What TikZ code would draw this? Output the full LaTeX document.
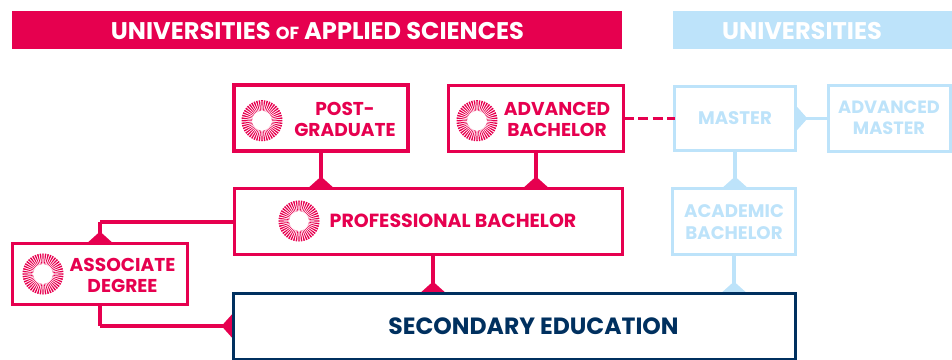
\documentclass[tikz,border=0pt]{standalone}
\usepackage{fontspec}
\setmainfont{Poppins}
\usetikzlibrary{arrows.meta}
\definecolor{hbored}{HTML}{E6004F}
\definecolor{hboblue}{HTML}{BDE3FA}
\definecolor{hbonavy}{HTML}{00305F}
\tikzset{
  x=1pt,y=-1pt,
  boxr/.style={draw=hbored,line width=3.5pt,inner sep=0pt,outer sep=0pt,rectangle},
  boxb/.style={draw=hboblue,line width=3.5pt,inner sep=0pt,outer sep=0pt,rectangle},
  boxn/.style={draw=hbonavy,line width=3.5pt,inner sep=0pt,outer sep=0pt,rectangle},
  lab/.style={font=\fontsize{18.6}{21.3}\selectfont\bfseries,align=center,inner sep=0pt},
  labr/.style={lab,text=hbored},
  labb/.style={lab,text=hboblue},
  head/.style={font=\fontsize{24.1}{26}\selectfont\bfseries,text=white,inner sep=0pt},
  conr/.style={draw=hbored,line width=3.2pt},
  conb/.style={draw=hboblue,line width=3.2pt},
  tipr/.style={-{Triangle[reversed,width=26pt,length=12pt,fill=hbored]}},
  tipb/.style={-{Triangle[reversed,width=26pt,length=12pt,fill=hboblue]}},
  pics/sunburst/.style={code={
    \foreach \a in {0,7.5,...,352.5}{
      \fill[hbored] (\a-1.1:9.8) -- (\a+1.1:9.8) -- (\a+2.2:20.5) -- (\a-2.2:20.5) -- cycle;
    }
  }},
}
\begin{document}
\begin{tikzpicture}
\useasboundingbox (0,0) rectangle (952,359);
% headers
\node[fill=hbored,minimum width=610pt,minimum height=38pt,inner sep=0pt] (hl) at (317,30) {};
\node[fill=hboblue,minimum width=279pt,minimum height=38pt,inner sep=0pt] (hr) at (812.5,30) {};
\node[head] (hlt) at (317.5,31) {UNIVERSITIES {\fontsize{17.5}{20}\selectfont OF} APPLIED SCIENCES};
\node[head] (hrt) at (802,31) {UNIVERSITIES};
% boxes
\node[boxr,minimum width=174pt,minimum height=66pt] (post) at (321,118) {};
\node[boxr,minimum width=175pt,minimum height=66pt] (adv) at (536,118.5) {};
\node[boxr,minimum width=388pt,minimum height=66pt] (prof) at (428.5,221.5) {};
\node[boxr,minimum width=175pt,minimum height=61pt] (assoc) at (100,274) {};
\node[boxb,minimum width=121pt,minimum height=64pt] (master) at (735,118.5) {};
\node[boxb,minimum width=122pt,minimum height=66pt] (advm) at (889.5,118.5) {};
\node[boxb,minimum width=123pt,minimum height=66pt] (acad) at (734,221.5) {};
\node[boxn,minimum width=562pt,minimum height=66pt] (sec) at (514.5,326.5) {};
% connectors
\draw[conr,tipr] (post.south) -- (post.south |- prof.north);
\draw[conr,tipr] (adv.south) -- (adv.south |- prof.north);
\coordinate (pb) at (433,254.5);
\draw[conr,tipr] (pb) -- (pb |- sec.north);
\coordinate (ac) at (100,222);
\draw[conr] (prof.west |- ac) -- (ac);
\draw[conr,tipr] (ac) -- (assoc.north);
\coordinate (ad) at (100,326);
\draw[conr] (assoc.south) -- (ad);
\draw[conr,tipr] (ad) -- (sec.west |- ad);
\draw[conr,dash pattern=on 10pt off 4.5pt] (adv.east) -- (master.west);
\draw[conb,tipb] (master.south) -- (master.south |- acad.north);
\draw[conb,tipb] (acad.south) -- (acad.south |- sec.north);
\draw[conb,tipb] (advm.west |- master.east) -- (master.east);
% redraw box edge over the tips
\draw[hbonavy,line width=3.5pt,line cap=rect] (sec.north west) -- (sec.north east);
\draw[hbonavy,line width=3.5pt,line cap=rect] (sec.north west) -- (sec.south west);
% icons
\pic at (262,120.7) {sunburst};
\pic at (477,120.7) {sunburst};
\pic at (299,221) {sunburst};
\pic at (43,274) {sunburst};
% labels
\node[labr] (tpost) at (345,119.5) {POST-\\GRADUATE};
\node[labr] (tadv) at (557,119.5) {ADVANCED\\BACHELOR};
\node[labr,font=\fontsize{19}{21.3}\selectfont\bfseries] (tprof) at (453,221) {PROFESSIONAL BACHELOR};
\node[labr] (tassoc) at (122.5,275.5) {ASSOCIATE\\DEGREE};
\node[labb,font=\fontsize{18.2}{21.3}\selectfont\bfseries] (tmaster) at (735,118) {MASTER};
\node[labb,font=\fontsize{17.8}{21.3}\selectfont\bfseries] (tadvm) at (889,118) {ADVANCED\\MASTER};
\node[labb,font=\fontsize{18.2}{21.3}\selectfont\bfseries] (tacad) at (734,222) {ACADEMIC\\BACHELOR};
\node[lab,font=\fontsize{23.5}{26}\selectfont\bfseries,text=hbonavy] (tsec) at (533.5,326) {SECONDARY EDUCATION};
\end{tikzpicture}
\end{document}
